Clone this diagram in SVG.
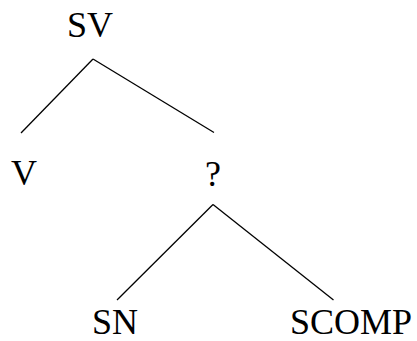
<svg xmlns="http://www.w3.org/2000/svg" width="417" height="341" viewBox="0 0 417 341">
<style>
.lbl{font-family:'Liberation Serif','Times New Roman',serif;font-size:36px;fill:#000}
.edge{stroke:#000;stroke-width:1.3;fill:none}
</style>
<rect width="417" height="341" fill="#fff"/>
<g id="connectors">
<line class="edge" x1="93" y1="59" x2="21" y2="133"/>
<line class="edge" x1="93" y1="59" x2="214" y2="132.5"/>
<line class="edge" x1="213" y1="204.5" x2="117" y2="300"/>
<line class="edge" x1="213" y1="204.5" x2="333.5" y2="300"/>
</g>
<g id="SV"><text class="lbl" x="67" y="36.5">SV</text></g>
<g id="V"><text class="lbl" x="11" y="185">V</text></g>
<g id="Q"><text class="lbl" x="205" y="185.5">?</text></g>
<g id="SN"><text class="lbl" x="92" y="333.5">SN</text></g>
<g id="SCOMP"><text class="lbl" x="290" y="333.5">SCOMP</text></g>
</svg>
